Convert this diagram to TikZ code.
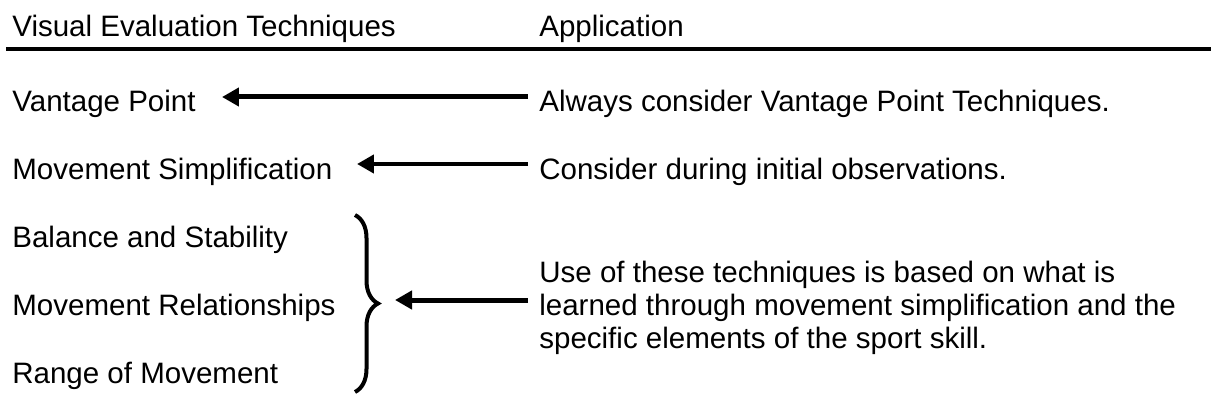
\documentclass[tikz,border=0pt]{standalone}
\usepackage{fontspec}
\setmainfont{Liberation Sans}
\usepackage{tikz}
\usetikzlibrary{arrows.meta, decorations.pathreplacing}

\tikzset{
	label text/.style={anchor=base west, inner sep=0pt, font=\fontsize{16.8}{18.8}\selectfont},
	long arrow/.style={line width=0.1cm, -{Triangle[length=0.34cm, width=0.36cm]}},
	group brace/.style={line width=0.08cm, decorate, decoration={brace, amplitude=0.46cm}}
}

\begin{document}
\begin{tikzpicture}[x=0.02cm, y=-0.02cm]
			\useasboundingbox (0,0) rectangle (1211,412);

			\def\left{12};
			\def\right{539};

			% heading
			\node [label text] (technique head) at (\left,37) {Visual Evaluation Techniques};
			\node [label text] (application head) at (\right,37) {Application};
			\coordinate (rule start) at (6,49);
			\coordinate (rule end) at (1211,49);
			\draw [line width=0.07cm] (rule start) -- (rule end);

			% techniques
			\node [label text] (vantage point) at (\left,112) {Vantage Point};
			\node [label text] (movement simplification) at (\left,179) {Movement Simplification};
			\node [label text] (balance) at (\left,247) {Balance and Stability};
			\node [label text] (relationships) at (\left,315) {Movement Relationships};
			\node [label text] (range) at (\left,383) {Range of Movement};

			% applications
			\node [label text] (always) at (\right,112) {Always consider Vantage Point Techniques.};
			\node [label text] (initial) at (\right,179) {Consider during initial observations.};
			\node [label text, anchor=north west, align=left] (based on) at (\right,261)
				{Use of these techniques is based on what is\\learned through movement simplification and the\\specific elements of the sport skill.};

			\begin{scope}
				\coordinate (brace top) at (355,215);
				\coordinate (brace bottom) at (355,392);
				\draw [group brace] (brace top) -- (brace bottom);
			\end{scope}

			\begin{scope}
				\coordinate (always tail) at (528,97);
				\coordinate (vantage tip) at (222,97);
				\coordinate (initial tail) at (528,164);
				\coordinate (simplification tip) at (357,164);
				\coordinate (based tail) at (528,300);
				\coordinate (brace tip) at (395,300);

				\draw [long arrow] (always tail) -- (vantage tip);
				\draw [long arrow] (initial tail) -- (simplification tip);
				\draw [long arrow] (based tail) -- (brace tip);
			\end{scope}
		\end{tikzpicture}
\end{document}
